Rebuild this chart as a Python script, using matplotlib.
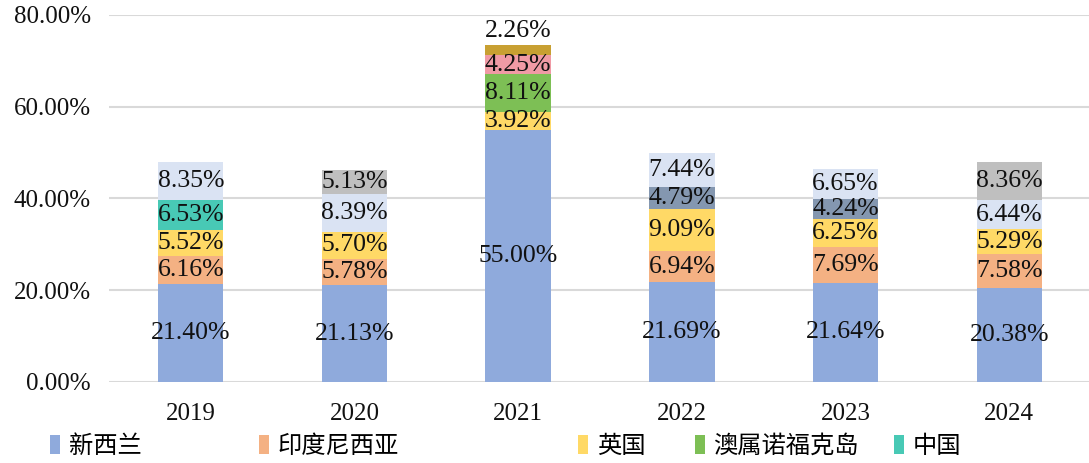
import matplotlib.pyplot as plt
import numpy as np

plt.rcParams['font.family'] = ['Liberation Serif', 'Noto Sans CJK SC', 'DejaVu Sans']

years = ['2019', '2020', '2021', '2022', '2023', '2024']

# stacked shares (%) per year, bottom to top
new_zealand = [21.40, 21.13, 55.00, 21.69, 21.64, 20.38]
indonesia = [6.16, 5.78, 0, 6.94, 7.69, 7.58]
uk = [5.52, 5.70, 3.92, 9.09, 6.25, 5.29]
norfolk = [0, 0, 8.11, 0, 0, 0]
china = [6.53, 0, 0, 0, 0, 0]
other_pink = [0, 0, 4.25, 0, 0, 0]
other_gold = [0, 0, 2.26, 0, 0, 0]
other_slate = [0, 0, 0, 4.79, 4.24, 0]
other_light = [8.35, 8.39, 0, 7.44, 6.65, 6.44]
other_gray = [0, 5.13, 0, 0, 0, 8.36]

series = [
    ('新西兰', new_zealand, '#8FAADC'),
    ('印度尼西亚', indonesia, '#F4B183'),
    ('英国', uk, '#FFD966'),
    ('澳属诺福克岛', norfolk, '#7DBF55'),
    ('中国', china, '#48C9B5'),
    (None, other_pink, '#F09AA5'),
    (None, other_gold, '#C8A032'),
    (None, other_slate, '#8497B0'),
    (None, other_light, '#DAE3F3'),
    (None, other_gray, '#BFBFBF'),
]

fig = plt.figure(figsize=(10.89, 4.63), dpi=100)
ax = fig.add_axes([0.100, 0.175, 0.902, 0.7927])

x = np.arange(len(years))
bottom = np.zeros(len(years))
handles = []
for name, vals, color in series:
    vals = np.array(vals, dtype=float)
    bars = ax.bar(x, vals, width=0.4, bottom=bottom, color=color,
                  edgecolor='none', zorder=2)
    if name is not None:
        handles.append((bars, name))
    for i, v in enumerate(vals):
        if v <= 0:
            continue
        if v < 3:
            # too small: put the label above the bar
            ax.annotate(f'{v:.2f}%', (x[i], bottom[i] + v), xytext=(0, 2),
                        textcoords='offset points', ha='center', va='bottom',
                        fontsize=18.5, color='#111111', zorder=4)
        else:
            ax.text(x[i], bottom[i] + v / 2, f'{v:.2f}%', ha='center',
                    va='center', fontsize=18.5, color='#111111', zorder=4)
    bottom += vals

ax.set_xlim(-0.5, len(years) - 0.5)
ax.set_ylim(0, 80)
ax.set_yticks(np.arange(0, 81, 20))
ax.set_yticklabels([f'{t:.2f}%' for t in np.arange(0, 81, 20)])
ax.set_xticks(x)
ax.set_xticklabels(years)
ax.tick_params(axis='both', length=0, labelsize=18, colors='#111111')
ax.tick_params(axis='y', pad=13)
ax.tick_params(axis='x', pad=15)
ax.grid(axis='y', color='#D9D9D9', linewidth=1.5, zorder=0)
ax.set_axisbelow(True)
for s in ax.spines.values():
    s.set_visible(False)

legend_x = [0.046, 0.238, 0.531, 0.638, 0.821]
for (h, name), lx in zip(handles, legend_x):
    fig.legend([h], [name], loc='center left', bbox_to_anchor=(lx, 0.035),
               frameon=False, fontsize=17.5, handlelength=0.42,
               handleheight=0.8, handletextpad=0.35, borderpad=0,
               borderaxespad=0)

fig.savefig('out.png', dpi=100)
